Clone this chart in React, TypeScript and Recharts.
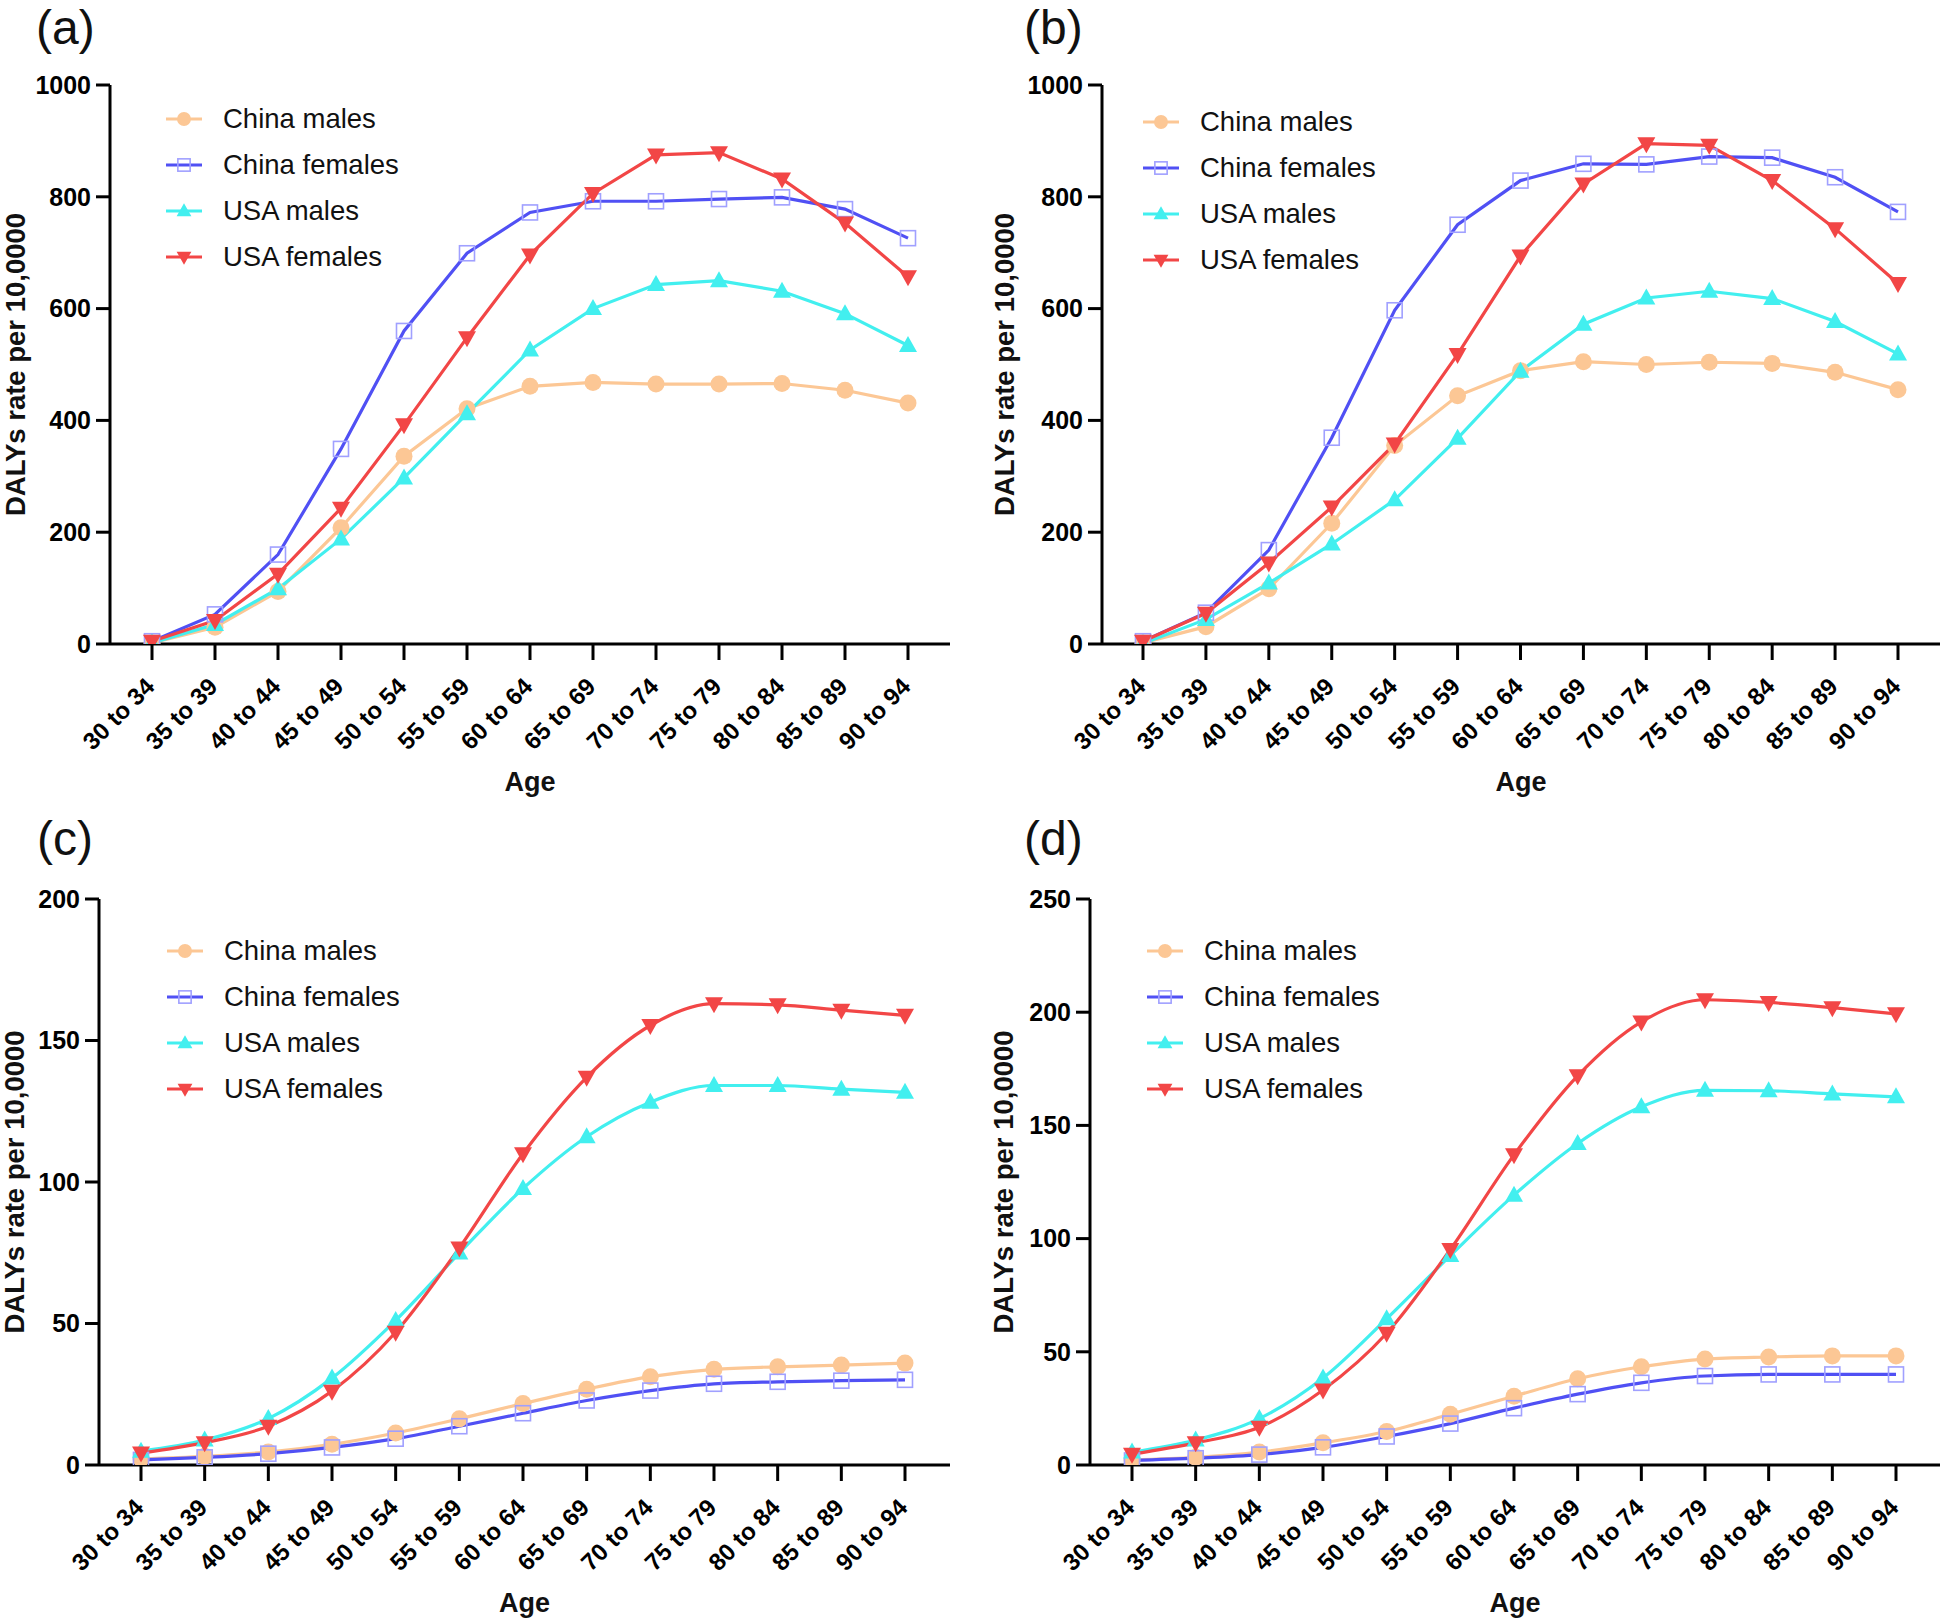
import React from "react";
import { LineChart, Line, XAxis, YAxis, Legend } from "recharts";

const FONT = '"Liberation Sans", Arial, Helvetica, sans-serif';

const ages = [
  "30 to 34", "35 to 39", "40 to 44", "45 to 49", "50 to 54", "55 to 59", "60 to 64",
  "65 to 69", "70 to 74", "75 to 79", "80 to 84", "85 to 89", "90 to 94",
];

// (a)
const aChinaMales = [2, 30, 94, 208, 336, 421, 461, 468, 465, 465, 466, 454, 431];
const aChinaFemales = [5, 53, 160, 349, 560, 699, 772, 792, 792, 796, 799, 778, 726];
const aUsaMales = [2, 35, 99, 188, 297, 412, 526, 600, 643, 650, 631, 591, 534];
const aUsaFemales = [5, 42, 125, 243, 392, 548, 696, 806, 875, 879, 832, 753, 657];

// (b)
const bChinaMales = [2, 31, 99, 216, 355, 444, 489, 505, 500, 504, 502, 486, 455];
const bChinaFemales = [5, 56, 168, 369, 597, 750, 829, 859, 858, 872, 870, 835, 773];
const bUsaMales = [1, 44, 109, 179, 258, 368, 488, 572, 619, 631, 618, 577, 519];
const bUsaFemales = [5, 55, 145, 245, 358, 518, 694, 823, 895, 892, 829, 743, 645];

// (c)
const cChinaMales = [2.2, 3.1, 4.6, 7.3, 11.3, 16.3, 21.7, 26.8, 31.2, 33.8, 34.7, 35.3, 36];
const cChinaFemales = [1.8, 2.7, 4, 6.2, 9.3, 13.7, 18.3, 22.8, 26.3, 28.7, 29.4, 29.8, 30.1];
const cUsaMales = [4.9, 8.8, 16.4, 30.7, 51.1, 74.9, 97.7, 116, 128.2, 134.1, 134.1, 132.8, 131.7];
const cUsaFemales = [4.2, 7.9, 13.7, 26.1, 46.9, 76.7, 110, 137, 155.3, 163, 162.6, 160.7, 158.9];

// (d)
const dChinaMales = [2.3, 3.4, 5.7, 9.8, 14.8, 22.4, 30.4, 38.1, 43.4, 46.8, 47.7, 48.2, 48.2];
const dChinaFemales = [2, 3, 4.6, 7.8, 12.6, 18.3, 25.1, 31.3, 36.3, 39.3, 40, 40, 40];
const dUsaMales = [5.7, 11, 20.5, 38.4, 64.6, 92.5, 119.2, 142, 158.2, 165.5, 165.3, 163.9, 162.6];
const dUsaFemales = [4.8, 9.8, 16.7, 33.1, 58.2, 95.2, 137, 171.9, 195.7, 205.5, 204.3, 202, 199.3];

const ticks1000 = [0, 200, 400, 600, 800, 1000];
const ticks200 = [0, 50, 100, 150, 200];
const ticks250 = [0, 50, 100, 150, 200, 250];

type MarkerKind = "circle" | "square" | "up" | "down";

const SERIES: { key: string; name: string; color: string; marker: MarkerKind }[] = [
  { key: "chinaMales", name: "China males", color: "#FCC795", marker: "circle" },
  { key: "chinaFemales", name: "China females", color: "#5050F4", marker: "square" },
  { key: "usaMales", name: "USA males", color: "#42EFEF", marker: "up" },
  { key: "usaFemales", name: "USA females", color: "#F24646", marker: "down" },
];

const buildRows = (cm: number[], cf: number[], um: number[], uf: number[]) =>
  ages.map((age, i) => ({ age, chinaMales: cm[i], chinaFemales: cf[i], usaMales: um[i], usaFemales: uf[i] }));

const Marker = ({ kind, cx, cy, color, s = 1 }: { kind: MarkerKind; cx: number; cy: number; color: string; s?: number }) => {
  if (kind === "circle") return <circle cx={cx} cy={cy} r={8.5 * s} fill={color} />;
  if (kind === "square")
    return (
      <rect x={cx - 7.5 * s} y={cy - 7.5 * s} width={15 * s} height={15 * s} fill="none" stroke="#A0A0FF" strokeWidth={1.6} />
    );
  if (kind === "up")
    return <polygon points={`${cx},${cy - 9.5 * s} ${cx + 9 * s},${cy + 6.5 * s} ${cx - 9 * s},${cy + 6.5 * s}`} fill={color} />;
  return <polygon points={`${cx - 9 * s},${cy - 6.5 * s} ${cx + 9 * s},${cy - 6.5 * s} ${cx},${cy + 9.5 * s}`} fill={color} />;
};

const AgeTick = (props: any) => {
  const { x, y, payload } = props;
  return (
    <g transform={`translate(${x},${y})`}>
      <text
        x={4}
        y={28}
        textAnchor="end"
        transform="rotate(-45 4 28)"
        fontSize={24}
        fontWeight={700}
        fontFamily={FONT}
        fill="#000"
      >
        {payload.value}
      </text>
    </g>
  );
};

const LegendBox = () => (
  <div style={{ fontFamily: FONT }}>
    {SERIES.map((s) => (
      <div key={s.key} style={{ display: "flex", alignItems: "center", height: 46 }}>
        <svg width={36} height={24} style={{ display: "block" }}>
          <line x1={0} x2={36} y1={12} y2={12} stroke={s.color} strokeWidth={3} />
          <Marker kind={s.marker} cx={18} cy={12} color={s.color} s={0.82} />
        </svg>
        <span style={{ marginLeft: 21, fontSize: 27.5, color: "#111", whiteSpace: "nowrap" }}>{s.name}</span>
      </div>
    ))}
  </div>
);

type PanelProps = {
  left: number;
  top: number;
  title: string;
  titleX: number;
  data: ReturnType<typeof buildRows>;
  domainMax: number;
  ticks: number[];
  marginTop: number;
  marginRight: number;
  yWidth: number;
  xHeight: number;
  padL: number;
  padR: number;
  yLabelOffset: number;
  ageOffset: number;
  legendX: number;
  legendY: number;
  curve: "linear" | "monotone";
};

const Panel = (p: PanelProps) => (
  <div style={{ position: "absolute", left: p.left, top: p.top, width: 972, height: 811 }}>
    <div
      style={{
        position: "absolute",
        left: p.titleX,
        top: 1,
        fontSize: 48,
        lineHeight: "54px",
        fontFamily: FONT,
        color: "#111",
      }}
    >
      {p.title}
    </div>
    <LineChart
      width={972}
      height={811}
      data={p.data}
      margin={{ top: p.marginTop, right: p.marginRight, left: 0, bottom: 0 }}
    >
      <XAxis
        dataKey="age"
        interval={0}
        height={p.xHeight}
        padding={{ left: p.padL, right: p.padR }}
        stroke="#000"
        strokeWidth={3}
        tickSize={16}
        tickMargin={0}
        tickLine={{ stroke: "#000", strokeWidth: 3 }}
        tick={<AgeTick />}
        label={{
          value: "Age",
          position: "insideBottom",
          offset: p.ageOffset,
          style: { fontSize: 27, fontWeight: 700, fill: "#111", fontFamily: FONT },
        }}
      />
      <YAxis
        width={p.yWidth}
        domain={[0, p.domainMax]}
        ticks={p.ticks}
        allowDataOverflow
        stroke="#000"
        strokeWidth={3}
        tickSize={14}
        tickMargin={5}
        tickLine={{ stroke: "#000", strokeWidth: 3 }}
        tick={{ fontSize: 25, fontWeight: 700, fill: "#000", fontFamily: FONT }}
        label={{
          value: "DALYs rate per 10,0000",
          angle: -90,
          position: "insideLeft",
          offset: p.yLabelOffset,
          style: { fontSize: 27.5, fontWeight: 700, fill: "#111", fontFamily: FONT, textAnchor: "middle" },
        }}
      />
      <Legend
        layout="vertical"
        align="center"
        verticalAlign="middle"
        wrapperStyle={{ left: p.legendX, top: p.legendY, width: 340, height: 184 }}
        content={() => <LegendBox />}
      />
      {SERIES.map((s) => (
        <Line
          key={s.key}
          type={p.curve}
          dataKey={s.key}
          name={s.name}
          stroke={s.color}
          strokeWidth={3.2}
          isAnimationActive={false}
          dot={(d: any) => <Marker key={`${s.key}-${d.index}`} kind={s.marker} cx={d.cx} cy={d.cy} color={s.color} />}
          activeDot={false}
        />
      ))}
    </LineChart>
  </div>
);

export default function App() {
  return (
    <div style={{ position: "absolute", left: 0, top: 0, width: 1944, height: 1622, background: "#fff" }}>
      <Panel
        left={0}
        top={0}
        title="(a)"
        titleX={36}
        data={buildRows(aChinaMales, aChinaFemales, aUsaMales, aUsaFemales)}
        domainMax={1000}
        ticks={ticks1000}
        marginTop={85}
        marginRight={22}
        yWidth={110}
        xHeight={167}
        padL={42}
        padR={42}
        yLabelOffset={15}
        ageOffset={20}
        legendX={166}
        legendY={96}
        curve="linear"
      />
      <Panel
        left={972}
        top={0}
        title="(b)"
        titleX={52}
        data={buildRows(bChinaMales, bChinaFemales, bUsaMales, bUsaFemales)}
        domainMax={1000}
        ticks={ticks1000}
        marginTop={85}
        marginRight={4}
        yWidth={130}
        xHeight={167}
        padL={41}
        padR={42}
        yLabelOffset={32}
        ageOffset={20}
        legendX={171}
        legendY={99}
        curve="linear"
      />
      <Panel
        left={0}
        top={811}
        title="(c)"
        titleX={37}
        data={buildRows(cChinaMales, cChinaFemales, cUsaMales, cUsaFemales)}
        domainMax={200}
        ticks={ticks200}
        marginTop={88}
        marginRight={22}
        yWidth={99}
        xHeight={157}
        padL={42}
        padR={45}
        yLabelOffset={14}
        ageOffset={10}
        legendX={167}
        legendY={117}
        curve="monotone"
      />
      <Panel
        left={972}
        top={811}
        title="(d)"
        titleX={52}
        data={buildRows(dChinaMales, dChinaFemales, dUsaMales, dUsaFemales)}
        domainMax={250}
        ticks={ticks250}
        marginTop={88}
        marginRight={4}
        yWidth={118}
        xHeight={157}
        padL={42}
        padR={44}
        yLabelOffset={31}
        ageOffset={10}
        legendX={175}
        legendY={117}
        curve="monotone"
      />
    </div>
  );
}
